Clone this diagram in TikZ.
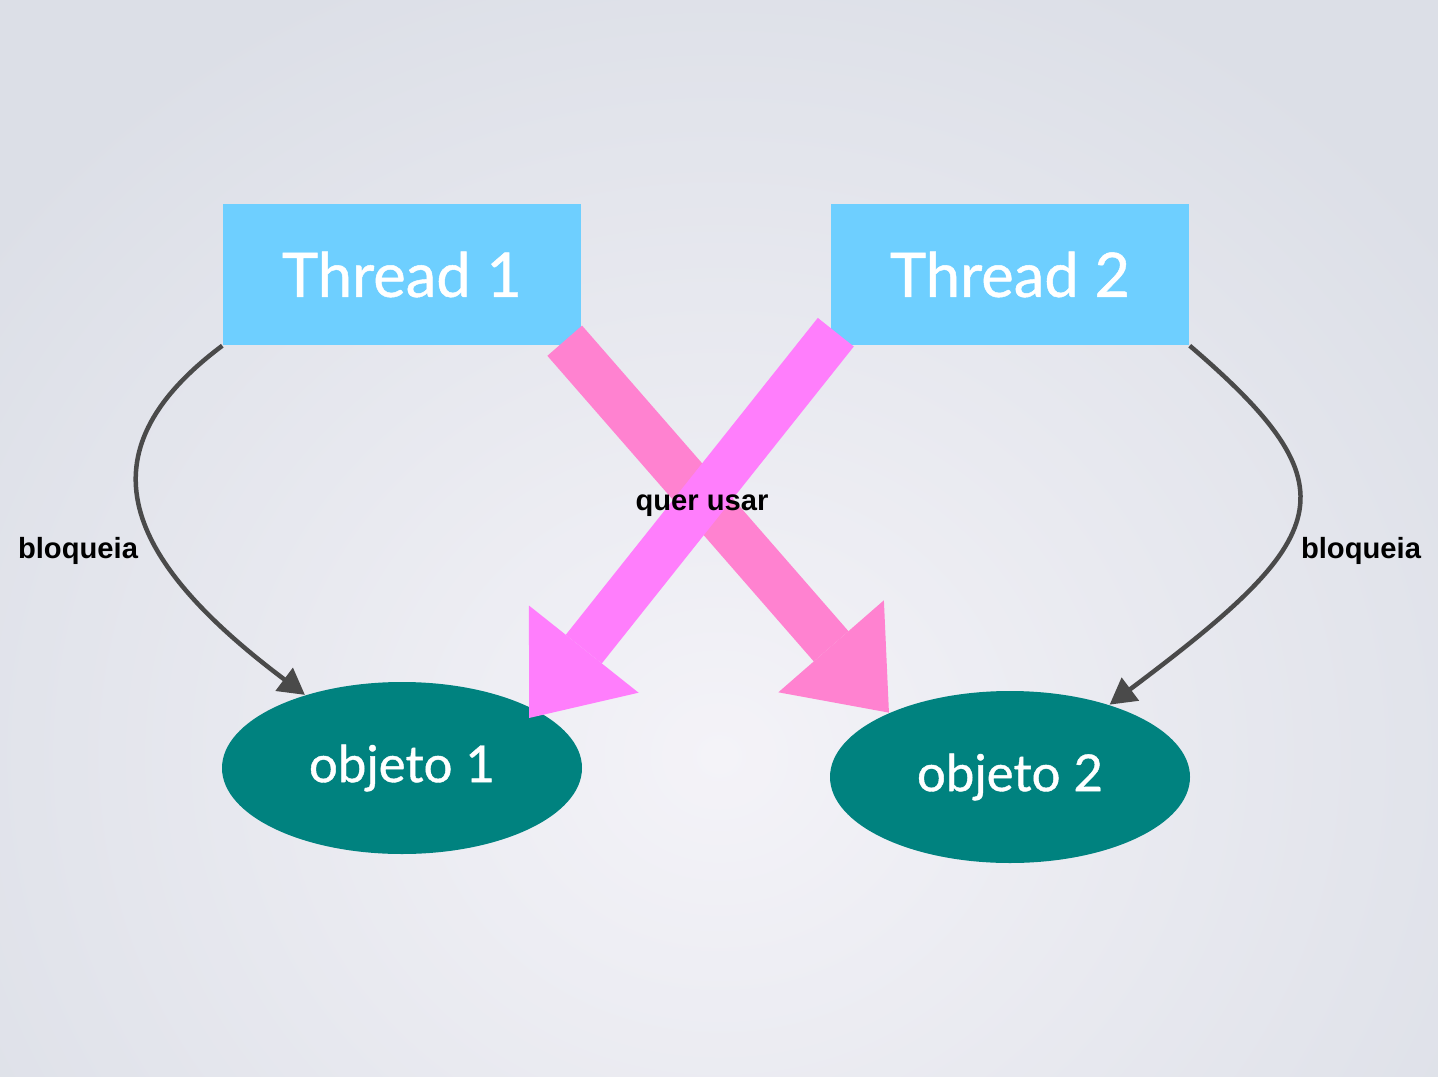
\documentclass[tikz,border=0pt]{standalone}
\usepackage{fontspec}
\setmainfont{Liberation Sans}
\newfontfamily\gillfont{Lato}[FakeBold=0.8]
\usetikzlibrary{shapes.geometric, arrows.meta, calc}

\definecolor{threadblue}{HTML}{6ECFFF}
\definecolor{objteal}{HTML}{00827F}
\definecolor{pinkA}{HTML}{FF82D0}
\definecolor{pinkB}{HTML}{FF7EFC}
\definecolor{curvegray}{HTML}{4A4A4A}
\definecolor{bgin}{HTML}{F4F3F8}
\definecolor{bgout}{HTML}{DCDFE7}

\begin{document}
\begin{tikzpicture}[>=Latex, x=1cm, y=1cm,
  threadbox/.style={rectangle, fill=threadblue, minimum width=3.58cm, minimum height=1.41cm, inner sep=0pt, text=white, font=\gillfont\fontsize{17.5}{20}\selectfont},
  objnode/.style={ellipse, fill=objteal, minimum width=3.6cm, minimum height=1.72cm, inner sep=0pt, text=white, font=\gillfont\fontsize{14.5}{18}\selectfont},
  blockarrow/.style={line width=0.46cm, -{Triangle[length=0.88cm, width=1.4cm, line width=0pt]}},
  lockarrow/.style={curvegray, line width=0.045cm, -{Triangle[length=0.26cm, width=0.28cm]}},
  lbl/.style={font=\bfseries\fontsize{8.3}{10}\selectfont}]
% background
\begin{scope}
\clip (0,0) rectangle (14.38,10.76);
\shade[inner color=bgin, outer color=bgout] (-2,-5.3) rectangle (16.38,11.7);
\end{scope}
\useasboundingbox (0,0) rectangle (14.38,10.76);

% Thread boxes
\node[threadbox] (t1) at (4.02,8.015) {Thread 1};
\node[threadbox] (t2) at (10.10,8.015) {Thread 2};
% objects
\node[objnode] (o1) at (4.02,3.08) {objeto 1};
\node[objnode] (o2) at (10.10,2.99) {objeto 2};

% lock arrows
\draw[lockarrow] (t1.south west) .. controls +(-1.36,-1.02) and +(-1.92,1.44) .. (o1.143);
\draw[lockarrow] (t2.south east) .. controls +(1.67,-1.43) and +(2.24,1.68) .. (o2.36);
\node[lbl] (lb1) at (0.78,5.25) {bloqueia};
\node[lbl] (lb2) at (13.61,5.25) {bloqueia};

% wants-to-use arrows
\coordinate (s1) at ($(t1.south east)+(-0.17,0.05)$);
\coordinate (s2) at ($(t2.south west)+(0.055,0.135)$);
\coordinate (e2) at ($(o1.center)+(1.27,0.50)$);
\draw[blockarrow, pinkA] (s1) -- (o2.152);
\draw[blockarrow, pinkB] (s2) -- (e2);
\node[lbl] (qu) at (7.02,5.70) {quer usar};
\end{tikzpicture}
\end{document}
